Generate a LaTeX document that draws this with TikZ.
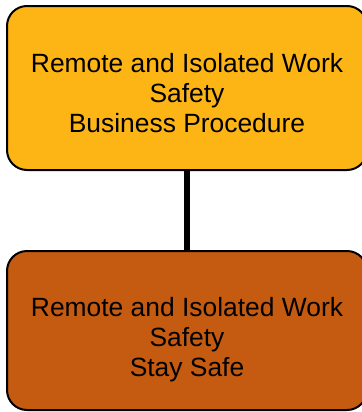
\documentclass[tikz,border=0pt]{standalone}
\usepackage{fontspec}
\setmainfont{Liberation Sans}
\definecolor{procfill}{RGB}{253,181,21}
\definecolor{safefill}{RGB}{197,90,17}
\begin{document}
\begin{tikzpicture}[x=0.5pt, y=-0.5pt,
        box/.style={draw=black, line width=1pt, rounded corners=10pt,
            minimum width=180pt, inner sep=0pt},
        boxtext/.style={align=center, text depth=0pt, inner sep=0pt,
            font=\fontsize{13.2}{15}\selectfont}]
        \useasboundingbox (0, 0) rectangle (361, 412);

        \node[box, fill=procfill, minimum height=82pt] (proc) at (187, 88) { };
        \node[box, fill=safefill, minimum height=79.5pt] (safe) at (187, 330.5) { };

        \draw[line width=3pt] (proc.south) -- (safe.north);

        \node[boxtext] (proctext) at (187, 93) {Remote and Isolated Work\\Safety\\Business Procedure};
        \node[boxtext] (safetext) at (187, 337) {Remote and Isolated Work\\Safety\\Stay Safe};
    \end{tikzpicture}
\end{document}
